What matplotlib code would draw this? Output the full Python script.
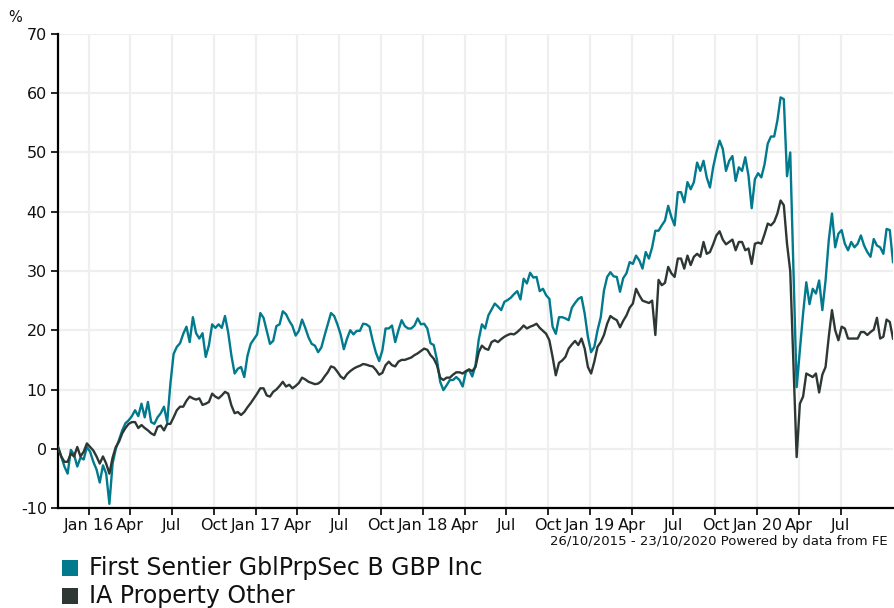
import matplotlib
matplotlib.use("Agg")
import matplotlib.pyplot as plt
from matplotlib.patches import Rectangle
import pandas as pd

start_date = "2015-10-26"
end_date = "2020-10-23"

fund_name = "First Sentier GblPrpSec B GBP Inc"
sector_name = "IA Property Other"
footer = "26/10/2015 - 23/10/2020 Powered by data from FE"

fund_values = [
    0.3, -1.3, -3.0, -4.2, -0.2, -1.0, -3.0, -1.5, -1.8, 0.3, -0.5, -2.2, -3.5,
    -5.7, -2.8, -4.2, -9.3, -2.5, 0.0, 1.5, 3.1, 4.3, 4.8, 5.5, 6.5, 5.5,
    7.6, 5.3, 7.9, 4.5, 4.2, 5.3, 6.0, 7.1, 4.5, 11.0, 16.0, 17.2, 17.8,
    19.4, 20.6, 18.0, 22.2, 19.5, 18.6, 19.5, 15.5, 17.5, 21.0, 20.4, 21.0, 20.4,
    22.4, 19.6, 15.7, 12.7, 13.5, 13.8, 12.1, 15.7, 17.7, 18.5, 19.3, 22.9, 22.1,
    19.9, 17.7, 18.2, 20.7, 21.0, 23.2, 22.7, 21.6, 20.7, 19.1, 19.9, 21.8, 20.4,
    18.8, 17.7, 17.4, 16.3, 17.1, 19.1, 21.0, 22.9, 22.4, 21.0, 19.3, 16.8, 18.6,
    20.0, 19.3, 19.9, 19.9, 21.1, 21.0, 20.6, 18.2, 16.2, 14.8, 16.6, 20.3, 20.3,
    20.8, 18.0, 20.0, 21.7, 20.7, 20.3, 20.3, 20.8, 22.0, 21.0, 21.1, 20.3, 17.8,
    17.5, 15.0, 11.3, 9.9, 10.7, 11.6, 11.6, 12.1, 11.6, 10.5, 13.0, 13.3, 12.2,
    14.1, 18.4, 21.0, 20.3, 22.5, 23.5, 24.5, 24.0, 23.4, 24.8, 25.1, 25.5, 26.1,
    26.6, 25.2, 28.7, 27.9, 29.7, 28.9, 29.0, 26.6, 27.0, 25.9, 25.3, 20.6, 19.4,
    22.2, 22.2, 22.0, 21.7, 23.8, 24.6, 25.3, 25.6, 22.8, 18.9, 16.3, 17.2, 20.0,
    22.2, 26.7, 29.0, 29.8, 29.1, 29.0, 26.5, 28.8, 29.6, 31.5, 31.2, 32.6, 31.8,
    30.4, 33.2, 32.1, 34.0, 36.8, 36.8, 37.7, 38.5, 41.0, 39.1, 37.7, 43.3, 43.3,
    41.6, 45.0, 43.8, 45.0, 48.3, 46.9, 48.6, 45.8, 44.1, 47.5, 50.0, 52.0, 50.6,
    46.9, 48.6, 49.4, 45.2, 47.5, 46.9, 49.2, 46.1, 40.6, 45.5, 46.5, 45.8, 48.0,
    51.5, 52.7, 52.7, 55.4, 59.3, 59.0, 46.0, 50.0, 30.0, 10.4, 16.6, 22.8, 28.1,
    24.4, 27.0, 26.2, 28.4, 23.4, 28.4, 35.2, 39.7, 34.0, 36.3, 36.9, 34.6, 33.5,
    34.9, 34.0, 34.6, 36.0, 34.3, 33.2, 32.4, 35.4, 34.3, 34.0, 32.9, 37.1, 36.9, 31.5,
]

sector_values = [
    0.3, -1.3, -2.2, -2.2, -0.8, -1.3, 0.3, -1.3, -0.5, 0.9, 0.3, -0.3, -1.3,
    -2.5, -1.3, -2.5, -4.2, -1.5, 0.3, 1.2, 2.6, 3.5, 4.2, 4.5, 4.5, 3.5,
    4.0, 3.5, 3.1, 2.6, 2.3, 3.7, 3.9, 3.1, 4.2, 4.2, 5.3, 6.5, 7.1,
    7.1, 8.1, 8.8, 8.5, 8.3, 8.5, 7.4, 7.6, 7.9, 9.3, 8.8, 8.5, 9.0,
    9.6, 9.3, 7.3, 6.0, 6.2, 5.7, 6.2, 7.0, 7.7, 8.5, 9.3, 10.2, 10.2,
    9.0, 8.8, 9.6, 10.0, 10.6, 11.3, 10.5, 10.8, 10.2, 10.6, 11.1, 12.0, 11.7,
    11.3, 11.1, 10.9, 11.0, 11.4, 12.2, 12.9, 13.9, 13.7, 13.0, 12.2, 11.8, 12.6,
    13.1, 13.5, 13.8, 14.0, 14.3, 14.2, 14.0, 13.9, 13.3, 12.5, 12.8, 14.1, 14.7,
    14.1, 13.9, 14.7, 15.0, 15.0, 15.2, 15.4, 15.8, 16.1, 16.5, 16.9, 16.7, 15.8,
    15.2, 14.1, 12.0, 11.6, 12.0, 12.0, 12.5, 12.9, 12.9, 12.7, 13.1, 13.4, 13.1,
    13.8, 16.3, 17.4, 16.9, 16.7, 18.0, 18.3, 18.0, 18.5, 18.9, 19.2, 19.4, 19.3,
    19.7, 20.2, 20.8, 20.3, 20.6, 20.8, 21.1, 20.4, 19.9, 19.4, 18.3, 15.5, 12.4,
    14.5, 14.9, 15.5, 16.9, 17.6, 18.2, 17.5, 18.6, 16.9, 13.8, 12.7, 14.7, 17.2,
    18.0, 19.2, 21.1, 22.4, 22.0, 21.7, 20.5, 21.6, 22.5, 23.8, 24.5, 27.0, 25.9,
    25.0, 24.8, 24.6, 25.0, 19.2, 28.5, 27.6, 28.0, 30.7, 29.6, 29.0, 32.1, 32.1,
    30.4, 32.6, 31.0, 32.4, 32.9, 32.4, 34.9, 32.9, 33.2, 34.5, 36.0, 36.7, 35.3,
    34.5, 34.9, 35.3, 33.5, 34.9, 34.9, 33.5, 33.8, 31.2, 34.6, 34.8, 34.6, 36.2,
    38.0, 37.7, 38.3, 39.7, 41.9, 41.1, 34.6, 30.0, 14.4, -1.4, 7.6, 8.8, 12.7,
    12.4, 12.1, 12.7, 9.5, 12.5, 13.8, 18.9, 23.4, 20.0, 18.3, 20.6, 20.3, 18.6,
    18.6, 18.6, 18.6, 19.7, 19.7, 19.2, 19.7, 20.1, 22.1, 18.6, 18.9, 21.8, 21.4, 18.6,
]

y_ticks = [-10, 0, 10, 20, 30, 40, 50, 60, 70]
tick_dates = ["2016-01-01", "2016-04-01", "2016-07-01", "2016-10-01",
              "2017-01-01", "2017-04-01", "2017-07-01", "2017-10-01",
              "2018-01-01", "2018-04-01", "2018-07-01", "2018-10-01",
              "2019-01-01", "2019-04-01", "2019-07-01", "2019-10-01",
              "2020-01-01", "2020-04-01", "2020-07-01"]
tick_labels = ["Jan 16", "Apr", "Jul", "Oct", "Jan 17", "Apr", "Jul", "Oct",
               "Jan 18", "Apr", "Jul", "Oct", "Jan 19", "Apr", "Jul", "Oct",
               "Jan 20", "Apr", "Jul"]

fund_color = "#007A8C"
sector_color = "#2D3835"

dates = pd.date_range(start_date, end_date, periods=len(fund_values))

W, H = 894, 608
fig = plt.figure(figsize=(W / 100, H / 100), dpi=100)
ax = fig.add_axes([58 / W, (H - 508) / H, (893 - 58) / W, (508 - 34) / H])

ax.plot(dates, fund_values, color=fund_color, lw=1.7, zorder=3)
ax.plot(dates, sector_values, color=sector_color, lw=1.7, zorder=4)

ax.set_xlim(pd.Timestamp(start_date), pd.Timestamp(end_date))
ax.set_ylim(-10, 70)
ax.set_yticks(y_ticks)
ax.set_yticklabels([str(v) for v in y_ticks])
ax.set_xticks([pd.Timestamp(d) for d in tick_dates])
ax.set_xticklabels(tick_labels)

ax.grid(True, color="#efefef", lw=1.6, zorder=0)
ax.set_axisbelow(True)
for s in ["top", "right"]:
    ax.spines[s].set_visible(False)
for s in ["left", "bottom"]:
    ax.spines[s].set_color("black")
    ax.spines[s].set_linewidth(1.6)
ax.tick_params(axis="both", direction="out", length=5, width=1.2, colors="black",
               labelsize=11.5, labelcolor="#111111")
ax.tick_params(axis="y", pad=3)
ax.tick_params(axis="x", pad=2)

fig.text(15 / W, 1 - 18 / H, "%", fontsize=10.5, ha="center", va="center", color="#111111")
fig.text(888 / W, 1 - 542 / H, footer, fontsize=9.5, ha="right", va="center", color="#111111")

for k, (name, col) in enumerate([(fund_name, fund_color), (sector_name, sector_color)]):
    yc = 568 + k * 28
    fig.add_artist(Rectangle((62 / W, 1 - (yc + 8) / H), 16 / W, 16 / H,
                             transform=fig.transFigure, color=col, lw=0))
    fig.text(89 / W, 1 - yc / H, name, fontsize=17, ha="left", va="center", color="#111111")

fig.savefig("out.png", dpi=100)
